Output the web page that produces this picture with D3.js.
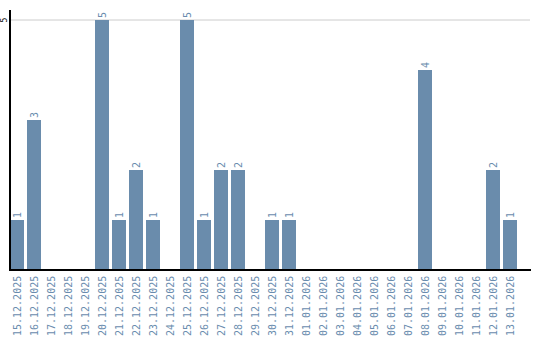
<!DOCTYPE html>
<html>
<head>
<meta charset="utf-8">
<script src="https://cdn.jsdelivr.net/npm/d3@7"></script>
<style>
  body { margin: 0; background: #fff; }
  text { font-family: "DejaVu Sans Mono", monospace; }
</style>
</head>
<body>
<svg></svg>
<script>
const width = 540,
      height = 340;

const dates = ['15.12.2025', '16.12.2025', '17.12.2025', '18.12.2025', '19.12.2025', '20.12.2025',
  '21.12.2025', '22.12.2025', '23.12.2025', '24.12.2025', '25.12.2025', '26.12.2025', '27.12.2025',
  '28.12.2025', '29.12.2025', '30.12.2025', '31.12.2025', '01.01.2026', '02.01.2026', '03.01.2026',
  '04.01.2026', '05.01.2026', '06.01.2026', '07.01.2026', '08.01.2026', '09.01.2026', '10.01.2026',
  '11.01.2026', '12.01.2026', '13.01.2026'];

const counts = [1, 3, 0, 0, 0, 5, 1, 2, 1, 0, 5, 1, 2, 2, 0, 1, 1, 0, 0, 0, 0, 0, 0, 0, 4, 0, 0, 0, 2, 1];

const yTicks = [5];

const data = dates.map((d, i) => ({ date: d, count: counts[i] }));

const barColor = '#6a8cac',
      textColor = '#6a8cae';

const svg = d3.select('svg')
    .attr('width', width)
    .attr('height', height);

const x = d3.scaleBand()
    .domain(dates)
    .range([10, 517])
    .paddingInner(3 / 17)
    .paddingOuter(0);

const y = d3.scaleLinear()
    .domain([0, 5])
    .range([270, 20]);

// grid
svg.append('g')
  .selectAll('line')
  .data(yTicks)
  .enter()
  .append('line')
    .attr('x1', 10)
    .attr('x2', 530)
    .attr('y1', (d) => y(d))
    .attr('y2', (d) => y(d))
    .attr('stroke', '#cccccc')
    .attr('stroke-width', 1);

// y tick labels
svg.append('g')
  .selectAll('text')
  .data(yTicks)
  .enter()
  .append('text')
    .attr('transform', (d) => `translate(7, ${y(d)}) rotate(-90)`)
    .attr('text-anchor', 'middle')
    .attr('font-size', 8)
    .attr('fill', '#000')
    .text((d) => d);

// bars
svg.append('g')
  .selectAll('rect')
  .data(data)
  .enter()
  .append('rect')
    .attr('x', (d) => x(d.date))
    .attr('y', (d) => y(d.count))
    .attr('width', x.bandwidth())
    .attr('height', (d) => y(0) - y(d.count))
    .attr('fill', barColor);

// value labels
svg.append('g')
  .selectAll('text')
  .data(data.filter((d) => d.count > 0))
  .enter()
  .append('text')
    .attr('transform', (d) => `translate(${x(d.date) + x.bandwidth() / 2 + 3.5}, ${y(d.count) - 2}) rotate(-90)`)
    .attr('font-size', 10)
    .attr('fill', textColor)
    .text((d) => d.count);

// axes lines
svg.append('line')
    .attr('x1', 10).attr('x2', 10)
    .attr('y1', 10).attr('y2', 270)
    .attr('stroke', '#000')
    .attr('stroke-width', 2);

svg.append('line')
    .attr('x1', 9).attr('x2', 531)
    .attr('y1', 270).attr('y2', 270)
    .attr('stroke', '#000')
    .attr('stroke-width', 2);

// x labels
svg.append('g')
  .selectAll('text')
  .data(dates)
  .enter()
  .append('text')
    .attr('transform', (d) => `translate(${x(d) + x.bandwidth() / 2 + 3.5}, 336) rotate(-90)`)
    .attr('font-size', 10)
    .attr('fill', textColor)
    .text((d) => d);
</script>
</body>
</html>
